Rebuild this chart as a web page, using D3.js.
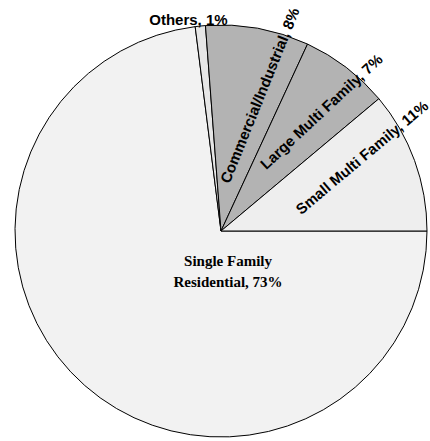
<!DOCTYPE html>
<html>
<head>
<meta charset="utf-8">
<script src="https://cdn.jsdelivr.net/npm/d3@7"></script>
<style>
  html, body { margin: 0; padding: 0; background: #fff; }
  svg { display: block; }
</style>
</head>
<body>
<div id="chart"></div>
<script>
// slices, in drawing order (clockwise from 3 o'clock)
const categories = ["Single Family Residential", "Others", "Commercial/Industrial", "Large Multi Family", "Small Multi Family"];
const shares = [73, 0.8, 8.1, 7, 11.1];
const shareLabels = ["73%", "1%", "8%", "7%", "11%"];
const fills = ["#f2f2f2", "#e6e6e6", "#b3b3b3", "#b3b3b3", "#eeeeee"];

const width = 430;
const height = 441;
const cx = 221, cy = 231, radius = 206;

// label placement: polar offset from slice middle (deg), distance from centre, text rotation
const labelLayout = [
    {dAngle: 0, r: 0, rotate: 0},
    {dAngle: -3, r: 214, rotate: 0},
    {dAngle: 5.7, r: 141, rotate: -68},
    {dAngle: 2.6, r: 156, rotate: -43},
    {dAngle: -7.6, r: 159, rotate: -40}
];

const svg = d3.select("#chart").append("svg")
    .attr("width", width)
    .attr("height", height);

const pie = d3.pie()
    .sort(null)
    .value(d => d)
    .startAngle(Math.PI / 2)
    .endAngle(Math.PI / 2 + 2 * Math.PI);

const arcs = pie(shares);
const arc = d3.arc().innerRadius(0).outerRadius(radius);

const g = svg.append("g").attr("transform", `translate(${cx},${cy})`);

g.selectAll("path")
  .data(arcs)
  .join("path")
    .attr("d", arc)
    .attr("fill", (d, i) => fills[i])
    .attr("stroke", "#000")
    .attr("stroke-width", 1)
    .attr("stroke-linejoin", "round");

// small labels, sans serif, some rotated
arcs.forEach((d, i) => {
    if (i === 0) return;
    const lay = labelLayout[i];
    const a = (d.startAngle + d.endAngle) / 2 + lay.dAngle * Math.PI / 180;
    const x = Math.sin(a) * lay.r;
    const y = -Math.cos(a) * lay.r;
    g.append("text")
        .attr("transform", `translate(${x},${y}) rotate(${lay.rotate})`)
        .attr("text-anchor", "middle")
        .attr("dy", "0.35em")
        .style("font", "bold 15px 'Liberation Sans', Arial, sans-serif")
        .attr("fill", "#000")
        .text(`${categories[i]}, ${shareLabels[i]}`);
});

// big slice label, serif, two lines
const big = g.append("text")
    .attr("text-anchor", "middle")
    .style("font", "bold 15px 'Liberation Serif', 'Times New Roman', serif")
    .attr("fill", "#000");
big.append("tspan").attr("x", 7).attr("y", 35).text("Single Family");
big.append("tspan").attr("x", 7).attr("y", 56).text(`Residential, ${shareLabels[0]}`);
</script>
</body>
</html>
